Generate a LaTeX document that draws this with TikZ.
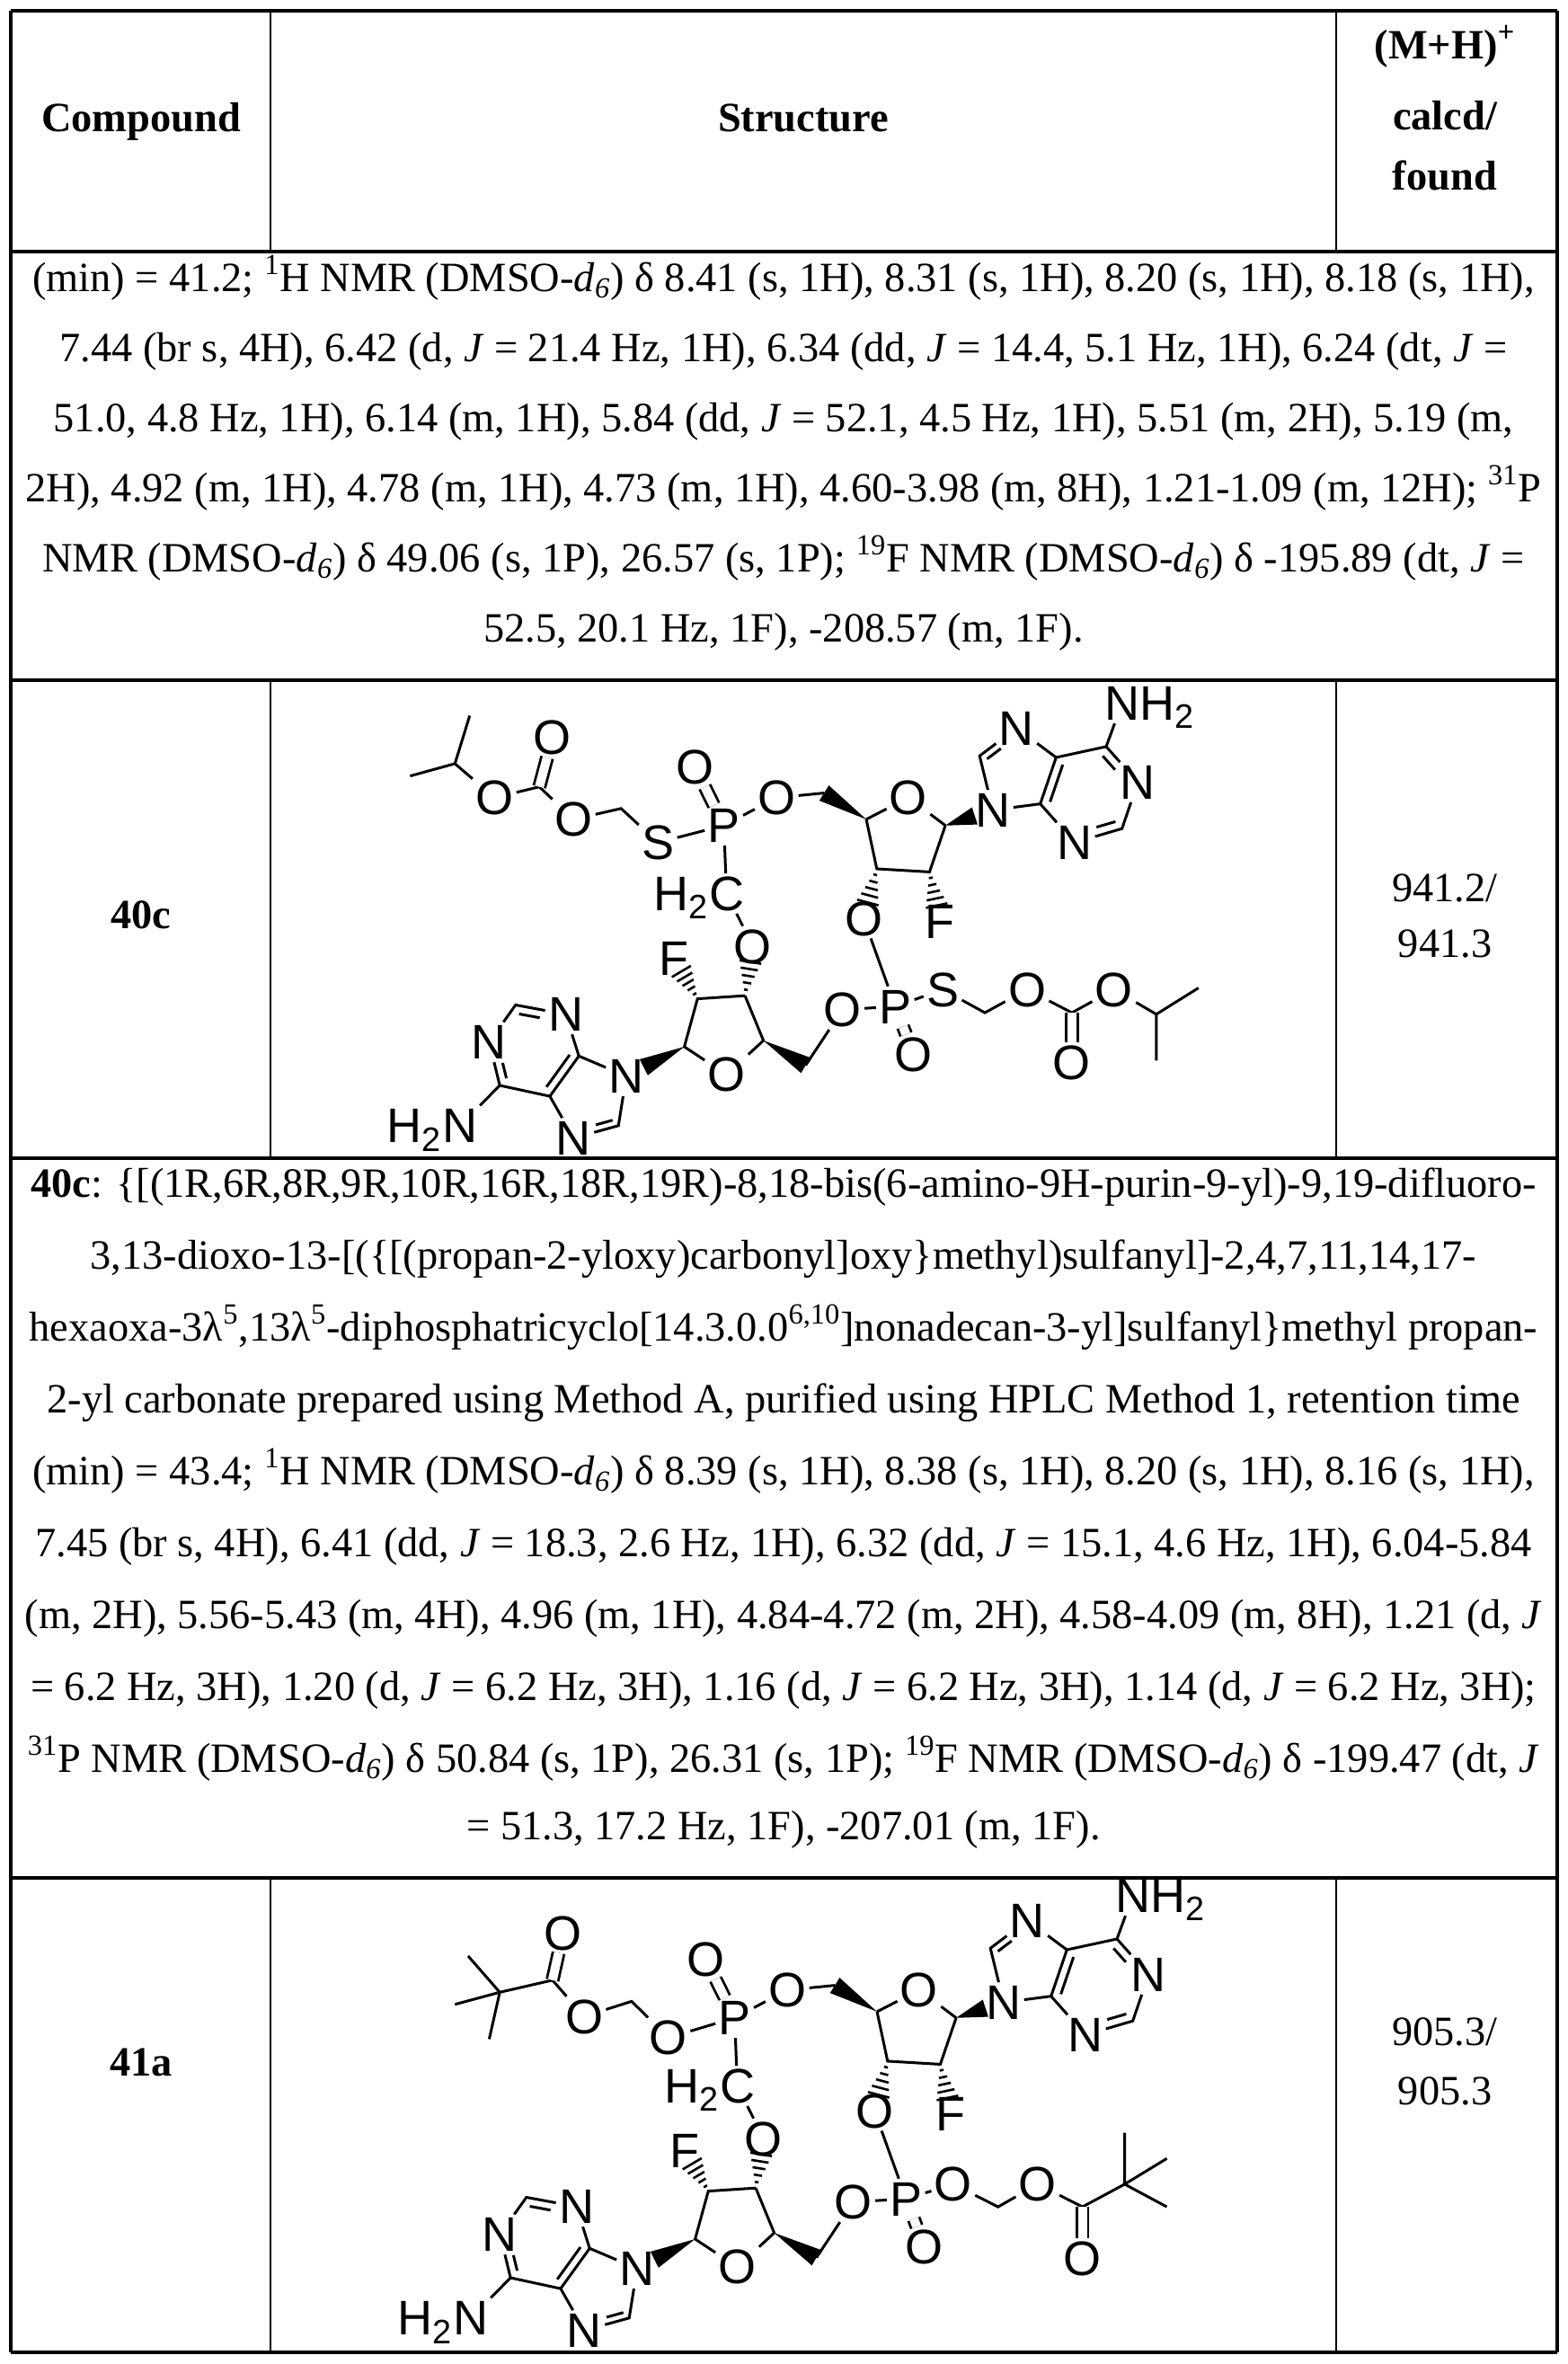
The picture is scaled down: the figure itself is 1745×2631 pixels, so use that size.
\documentclass[tikz,border=0pt]{standalone}
\usepackage{fontspec}
\setmainfont{Liberation Serif}
\newfontfamily\chemfont{Liberation Sans}
\usetikzlibrary{calc}
\newcommand\bodyfont{\fontsize{23.2}{26}\selectfont}
\newcommand\dsix{DMSO-\textit{d}\textsubscript{\textit{6}}}
\tikzset{
  atom/.style={font=\chemfont\fontsize{27}{27}\selectfont, inner sep=1.5pt, text height=19pt, text depth=0pt},
  hsub/.style={font=\chemfont\fontsize{27}{27}\selectfont, inner sep=0pt, text height=19pt, text depth=0pt},
  bond/.style={line width=1.5pt},
  dbl/.style={double, double distance=5pt, line width=1.4pt},
  body/.style={font=\bodyfont, inner sep=0pt, text height=16pt, text depth=5pt},
  hrule/.style={line width=1.8pt},
  orule/.style={line width=1.8pt},
  irule/.style={line width=1pt}
}
% hashed bond
\newcommand\hb[3]{\foreach \t in {0.12,0.26,0.40,0.54,0.68}{\pgfmathsetmacro\hw{#3*\t}\draw[line width=1.3pt] ($(#1)!\t!(#2)!\hw pt!90:(#2)$) -- ($(#1)!\t!(#2)!\hw pt!-90:(#2)$);}}
% solid wedge
\newcommand\wb[3]{\fill ($(#1)$) -- ($(#1)!#3!(#2)!5pt!90:(#1)$) -- ($(#1)!#3!(#2)!5pt!-90:(#1)$) -- cycle;}
% inner double bond line
\newcommand\ib[4][]{\draw[bond,#1] ($(#2)!0.2!(#4)$) -- ($(#3)!0.2!(#4)$);}
% shared skeleton (zoom frame)
\newcommand\skel[1]{%
  \node[atom] (#1O1) at (585,300) {O};
  \node[atom] (#1P1) at (640,490) {P};
  \node[atom] (#1O2) at (740,400) {O};
  \node[atom] (#1OR1) at (990,400) {O};
  \node[atom] (#1N9a) at (1150,440) {N};
  \node[atom] (#1N7a) at (1195,175) {N};
  \node[atom] (#1N3a) at (1305,545) {N};
  \node[atom] (#1N1a) at (1425,350) {N};
  \node[atom] (#1NH2a) at (1395,95) {N};
  \node[hsub, anchor=west] at ([xshift=-1.5pt]#1NH2a.east) {H\textsubscript{2}};
  \node[atom] (#1F1) at (1050,800) {F};
  \node[atom] (#1O3) at (905,790) {O};
  \node[atom] (#1CH) at (645,710) {C};
  \node[hsub, anchor=east] at ([xshift=1.5pt]#1CH.west) {H\textsubscript{2}};
  \node[atom] (#1O4) at (695,880) {O};
  \node[atom] (#1F2) at (545,920) {F};
  \node[atom] (#1OR2) at (645,1295) {O};
  \node[atom] (#1O5) at (865,1085) {O};
  \node[atom] (#1P2) at (965,1075) {P};
  \node[atom] (#1O6) at (1000,1230) {O};
  \node[atom] (#1N9b) at (455,1300) {N};
  \node[atom] (#1N7b) at (355,1500) {N};
  \node[atom] (#1N3b) at (340,1100) {N};
  \node[atom] (#1N1b) at (195,1190) {N};
  \node[atom] (#1NH2b) at (140,1460) {N};
  \node[hsub, anchor=east] at ([xshift=1.5pt]#1NH2b.west) {H\textsubscript{2}};
  \coordinate (#1CH2a) at (830,385);
  \coordinate (#1C4a) at (910,470);
  \coordinate (#1C1a) at (1060,490);
  \coordinate (#1C2a) at (1030,640);
  \coordinate (#1C3a) at (930,630);
  \coordinate (#1C8a) at (1125,265);
  \coordinate (#1C5a) at (1270,270);
  \coordinate (#1C4pa) at (1240,420);
  \coordinate (#1C2pa) at (1395,500);
  \coordinate (#1C6a) at (1365,235);
  \coordinate (#1C3b) at (680,1040);
  \coordinate (#1C2b) at (590,1050);
  \coordinate (#1C1b) at (565,1205);
  \coordinate (#1C4b) at (715,1185);
  \coordinate (#1CH2b) at (795,1265);
  \coordinate (#1C8b) at (440,1460);
  \coordinate (#1C5b) at (310,1365);
  \coordinate (#1C4pb) at (365,1235);
  \coordinate (#1C2pb) at (245,1070);
  \coordinate (#1C6b) at (215,1330);
  \coordinate (#1hexa) at (1333,387);
  \coordinate (#1ima) at (1196,314);
  \coordinate (#1hexb) at (278,1215);
  \coordinate (#1imb) at (385,1372);
  \draw[dbl] (#1P1) -- (#1O1);
  \draw[bond] (#1P1) -- (#1O2) (#1O2) -- (#1CH2a);
  \wb{#1C4a}{#1CH2a}{1}
  \draw[bond] (#1C4a) -- (#1OR1) (#1OR1) -- (#1C1a);
  \draw[bond] (#1C1a) -- (#1C2a) -- (#1C3a) -- (#1C4a);
  \wb{#1C1a}{#1N9a}{0.62}
  \hb{#1C2a}{#1F1}{9}
  \hb{#1C3a}{#1O3}{9}
  \draw[bond] (#1O3) -- (#1P2);
  \draw[bond] (#1P1) -- (#1CH) (#1CH) -- (#1O4);
  \hb{#1C3b}{#1O4}{9}
  \draw[bond] (#1C3b) -- (#1C2b) -- (#1C1b) -- (#1OR2) -- (#1C4b) -- (#1C3b);
  \hb{#1C2b}{#1F2}{9}
  \wb{#1C4b}{#1CH2b}{1}
  \draw[bond] (#1CH2b) -- (#1O5) (#1O5) -- (#1P2);
  \draw[dbl] (#1P2) -- (#1O6);
  \wb{#1C1b}{#1N9b}{0.7}
  % adenine a
  \draw[bond] (#1N9a) -- (#1C8a) -- (#1N7a) (#1N7a) -- (#1C5a) -- (#1C4pa) -- (#1N9a);
  \draw[bond] (#1C4pa) -- (#1N3a) (#1N3a) -- (#1C2pa) -- (#1N1a) (#1N1a) -- (#1C6a) -- (#1C5a);
  \draw[bond] (#1C6a) -- (#1NH2a);
  \ib[shorten >=11pt]{#1C8a}{#1N7a}{#1ima}
  \ib{#1C5a}{#1C4pa}{#1hexa}
  \ib[shorten <=11pt]{#1N3a}{#1C2pa}{#1hexa}
  \ib[shorten <=11pt]{#1N1a}{#1C6a}{#1hexa}
  % adenine b
  \draw[bond] (#1N9b) -- (#1C8b) -- (#1N7b) (#1N7b) -- (#1C5b) -- (#1C4pb) -- (#1N9b);
  \draw[bond] (#1C4pb) -- (#1N3b) (#1N3b) -- (#1C2pb) -- (#1N1b) (#1N1b) -- (#1C6b) -- (#1C5b);
  \draw[bond] (#1C6b) -- (#1NH2b);
  \ib[shorten >=11pt]{#1C8b}{#1N7b}{#1imb}
  \ib{#1C5b}{#1C4pb}{#1hexb}
  \ib[shorten <=11pt]{#1N3b}{#1C2pb}{#1hexb}
  \ib[shorten <=11pt]{#1N1b}{#1C6b}{#1hexb}
}
\begin{document}
\begin{tikzpicture}[x=0.5pt,y=-0.5pt]
\useasboundingbox (0,0) rectangle (1745,2631);
\fill[white] (0,0) rectangle (1745,2631);
% table rules
\draw[hrule] (12,12) -- (1733,12);
\draw[hrule] (12,280) -- (1733,280);
\draw[hrule] (12,757) -- (1733,757);
\draw[hrule] (12,1289) -- (1733,1289);
\draw[hrule] (12,2090) -- (1733,2090);
\draw[hrule] (12,2618) -- (1733,2618);
\draw[orule] (12,12) -- (12,2618);
\draw[orule] (1733,12) -- (1733,2618);
\draw[irule] (301,12) -- (301,280) (1487,12) -- (1487,280);
\draw[irule] (301,757) -- (301,1289) (1487,757) -- (1487,1289);
\draw[irule] (301,2090) -- (301,2618) (1487,2090) -- (1487,2618);
% header
\node[body] (hc) at (157,135) {\bfseries Compound};
\node[body] (hs) at (894,135) {\bfseries Structure};
\node[body] (hm1) at (1608,54) {\bfseries (M+H)\textsuperscript{+}};
\node[body] (hm2) at (1608,133) {\bfseries calcd/};
\node[body] (hm3) at (1608,200) {\bfseries found};
% row 1 text
\node[body] (a1) at (872,313) {(min) = 41.2; \textsuperscript{1}H NMR (\dsix) δ 8.41 (s, 1H), 8.31 (s, 1H), 8.20 (s, 1H), 8.18 (s, 1H),};
\node[body] (a2) at (872,391) {7.44 (br s, 4H), 6.42 (d, \textit{J} = 21.4 Hz, 1H), 6.34 (dd, \textit{J} = 14.4, 5.1 Hz, 1H), 6.24 (dt, \textit{J} =};
\node[body] (a3) at (872,469) {51.0, 4.8 Hz, 1H), 6.14 (m, 1H), 5.84 (dd, \textit{J} = 52.1, 4.5 Hz, 1H), 5.51 (m, 2H), 5.19 (m,};
\node[body] (a4) at (872,547) {2H), 4.92 (m, 1H), 4.78 (m, 1H), 4.73 (m, 1H), 4.60-3.98 (m, 8H), 1.21-1.09 (m, 12H); \textsuperscript{31}P};
\node[body] (a5) at (872,625) {NMR (\dsix) δ 49.06 (s, 1P), 26.57 (s, 1P); \textsuperscript{19}F NMR (\dsix) δ -195.89 (dt, \textit{J} =};
\node[body] (a6) at (872,703) {52.5, 20.1 Hz, 1F), -208.57 (m, 1F).};
% row 40c
\node[body] (c40) at (157,1022) {\bfseries 40c};
\node[body] (m40a) at (1608,992) {941.2/};
\node[body] (m40b) at (1608,1054) {941.3};
% row 2 text
\node[body] (b1) at (872,1321) {\textbf{40c}: \{[(1R,6R,8R,9R,10R,16R,18R,19R)-8,18-bis(6-amino-9H-purin-9-yl)-9,19-difluoro-};
\node[body] (b2) at (872,1401) {3,13-dioxo-13-[(\{[(propan-2-yloxy)carbonyl]oxy\}methyl)sulfanyl]-2,4,7,11,14,17-};
\node[body] (b3) at (872,1481) {hexaoxa-3λ\textsuperscript{5},13λ\textsuperscript{5}-diphosphatricyclo[14.3.0.0\textsuperscript{6,10}]nonadecan-3-yl]sulfanyl\}methyl propan-};
\node[body] (b4) at (872,1561) {2-yl carbonate prepared using Method A, purified using HPLC Method 1, retention time};
\node[body] (b5) at (872,1641) {(min) = 43.4; \textsuperscript{1}H NMR (\dsix) δ 8.39 (s, 1H), 8.38 (s, 1H), 8.20 (s, 1H), 8.16 (s, 1H),};
\node[body] (b6) at (872,1721) {7.45 (br s, 4H), 6.41 (dd, \textit{J} = 18.3, 2.6 Hz, 1H), 6.32 (dd, \textit{J} = 15.1, 4.6 Hz, 1H), 6.04-5.84};
\node[body] (b7) at (872,1801) {(m, 2H), 5.56-5.43 (m, 4H), 4.96 (m, 1H), 4.84-4.72 (m, 2H), 4.58-4.09 (m, 8H), 1.21 (d, \textit{J}};
\node[body] (b8) at (872,1881) {= 6.2 Hz, 3H), 1.20 (d, \textit{J} = 6.2 Hz, 3H), 1.16 (d, \textit{J} = 6.2 Hz, 3H), 1.14 (d, \textit{J} = 6.2 Hz, 3H);};
\node[body] (b9) at (872,1961) {\textsuperscript{31}P NMR (\dsix) δ 50.84 (s, 1P), 26.31 (s, 1P); \textsuperscript{19}F NMR (\dsix) δ -199.47 (dt, \textit{J}};
\node[body] (b10) at (872,2036) {= 51.3, 17.2 Hz, 1F), -207.01 (m, 1F).};
% row 41a
\node[body] (c41) at (157,2299) {\bfseries 41a};
\node[body] (m41a) at (1608,2265) {905.3/};
\node[body] (m41b) at (1608,2331) {905.3};
% molecule 40c
\begin{scope}[shift={(430,750)}, x=0.29343pt, y=-0.17218pt]
  \skel{u}
  \node[atom] (uS1) at (515,545) {S};
  \node[atom] (uO7) at (355,470) {O};
  \node[atom] (uO8) at (315,205) {O};
  \node[atom] (uO9) at (205,400) {O};
  \coordinate (uCa) at (445,435);
  \coordinate (uCb) at (290,365);
  \coordinate (uCc) at (130,290);
  \coordinate (uM1) at (45,330);
  \coordinate (uM2) at (158,135);
  \draw[bond] (uP1) -- (uS1) (uS1) -- (uCa) -- (uO7) (uO7) -- (uCb) -- (uO9) (uO9) -- (uCc) -- (uM1) (uCc) -- (uM2);
  \draw[dbl] (uCb) -- (uO8);
  \node[atom] (uS2) at (1055,1020) {S};
  \node[atom] (uO10) at (1215,1020) {O};
  \node[atom] (uO11) at (1300,1255) {O};
  \node[atom] (uO12) at (1380,1020) {O};
  \coordinate (uCd) at (1135,1095);
  \coordinate (uCe) at (1300,1095);
  \coordinate (uCf) at (1460,1100);
  \coordinate (uM3) at (1540,1015);
  \coordinate (uM4) at (1460,1250);
  \draw[bond] (uP2) -- (uS2) (uS2) -- (uCd) -- (uO10) (uO10) -- (uCe) -- (uO12) (uO12) -- (uCf) -- (uM3) (uCf) -- (uM4);
  \draw[dbl] (uCe) -- (uO11);
\end{scope}
% molecule 41a skeleton
\begin{scope}[shift={(442,2077)}, x=0.29343pt, y=-0.17218pt]
  \skel{w}
\end{scope}
% 41a side chains
\begin{scope}[shift={(430,2150)}, x=0.29343pt, y=-0.16818pt]
  \node[atom] (wOa) at (535,350) {O};
  \node[atom] (wOb) at (375,280) {O};
  \node[atom] (wOc) at (335,3) {O};
  \coordinate (wCa) at (465,230);
  \coordinate (wCe) at (315,160);
  \coordinate (wCq) at (215,200);
  \coordinate (wM1) at (130,240);
  \coordinate (wM2) at (155,80);
  \coordinate (wM3) at (195,355);
  \draw[bond] (wP1) -- (wOa) (wOa) -- (wCa) -- (wOb) (wOb) -- (wCe) -- (wCq) -- (wM1) (wCq) -- (wM2) (wCq) -- (wM3);
  \draw[dbl] (wCe) -- (wOc);
  \node[atom] (wOd) at (1075,835) {O};
  \node[atom] (wOe) at (1235,835) {O};
  \node[atom] (wOf) at (1320,1080) {O};
  \coordinate (wCb) at (1160,910);
  \coordinate (wCf) at (1320,910);
  \coordinate (wCr) at (1400,835);
  \coordinate (wM4) at (1400,665);
  \coordinate (wM5) at (1480,750);
  \coordinate (wM6) at (1480,910);
  \draw[bond] (wP2) -- (wOd) (wOd) -- (wCb) -- (wOe) (wOe) -- (wCf) -- (wCr) -- (wM4) (wCr) -- (wM5) (wCr) -- (wM6);
  \draw[dbl] (wCf) -- (wOf);
\end{scope}
\end{tikzpicture}
\end{document}
